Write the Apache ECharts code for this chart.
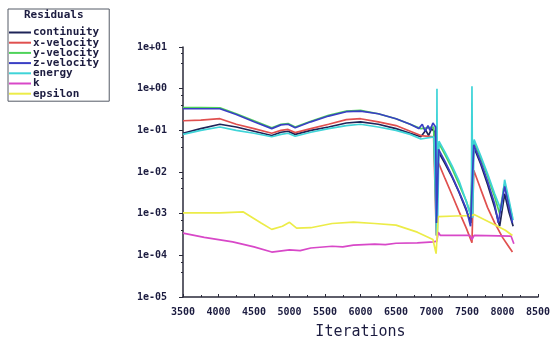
<!DOCTYPE html>
<html>
<head>
<meta charset="utf-8">
<script src="https://cdn.jsdelivr.net/npm/echarts@6/dist/echarts.min.js"></script>
<style>
  html, body { margin: 0; padding: 0; background: #ffffff; }
  #chart { width: 554px; height: 347px; }
</style>
</head>
<body>
<div id="chart"></div>
<script>
// Residual histories: [iteration, residual]
const continuity = [
  [3500, 0.085], [3750, 0.11], [4020, 0.14], [4250, 0.12], [4500, 0.095], [4750, 0.075],
  [4880, 0.09], [4980, 0.095], [5080, 0.08], [5300, 0.1], [5550, 0.12], [5800, 0.15],
  [6000, 0.16], [6250, 0.14], [6500, 0.11], [6700, 0.085], [6850, 0.07], [6920, 0.1],
  [6960, 0.075], [7000, 0.11], [7050, 0.09], [7068, 0.0006], [7100, 0.03], [7190, 0.016],
  [7290, 0.0075], [7390, 0.0032], [7490, 0.0012], [7555, 0.0006], [7595, 0.04],
  [7690, 0.016], [7790, 0.005], [7890, 0.0014], [7960, 0.0005], [8030, 0.003],
  [8090, 0.0011], [8150, 0.0005]
];
const xVelocity = [
  [3500, 0.17], [3750, 0.175], [4020, 0.19], [4250, 0.14], [4500, 0.11], [4750, 0.085],
  [4880, 0.1], [4980, 0.105], [5080, 0.088], [5300, 0.11], [5550, 0.14], [5800, 0.18],
  [6000, 0.19], [6250, 0.16], [6500, 0.13], [6700, 0.095], [6850, 0.075], [7030, 0.07],
  [7068, 0.0003], [7095, 0.017], [7190, 0.007], [7290, 0.0028], [7390, 0.0011],
  [7490, 0.00045], [7570, 0.0002], [7595, 0.011], [7690, 0.004], [7790, 0.0014],
  [7890, 0.0006], [8000, 0.00027], [8070, 0.00018], [8140, 0.00012]
];
const yVelocity = [
  [3500, 0.35], [3750, 0.35], [4020, 0.345], [4250, 0.25], [4500, 0.17], [4750, 0.115],
  [4880, 0.14], [4980, 0.145], [5080, 0.12], [5300, 0.165], [5550, 0.23], [5800, 0.29],
  [6000, 0.3], [6250, 0.25], [6500, 0.19], [6700, 0.14], [6850, 0.11], [7030, 0.12],
  [7068, 0.0008], [7100, 0.05], [7190, 0.026], [7290, 0.012], [7390, 0.005],
  [7490, 0.002], [7545, 0.001], [7595, 0.055], [7690, 0.022], [7790, 0.008],
  [7890, 0.0025], [7960, 0.001], [8025, 0.005], [8090, 0.0018], [8140, 0.0008]
];
const zVelocity = [
  [3500, 0.33], [3750, 0.33], [4020, 0.33], [4250, 0.24], [4500, 0.16], [4750, 0.11],
  [4880, 0.135], [4980, 0.14], [5080, 0.115], [5300, 0.16], [5550, 0.22], [5800, 0.28],
  [6000, 0.29], [6250, 0.25], [6500, 0.19], [6700, 0.14], [6820, 0.11], [6870, 0.14],
  [6910, 0.095], [6950, 0.13], [6980, 0.1], [7020, 0.15], [7058, 0.12], [7070, 0.0006],
  [7100, 0.035], [7190, 0.018], [7290, 0.008], [7390, 0.0033], [7490, 0.0013],
  [7550, 0.0005], [7595, 0.045], [7690, 0.018], [7790, 0.006], [7890, 0.0017],
  [7940, 0.0006], [8030, 0.0045], [8090, 0.0015], [8140, 0.0006]
];
const energy = [
  [3500, 0.08], [3750, 0.1], [4020, 0.12], [4250, 0.1], [4500, 0.085], [4750, 0.07],
  [4880, 0.08], [4980, 0.085], [5080, 0.072], [5300, 0.09], [5550, 0.11], [5800, 0.13],
  [6000, 0.14], [6250, 0.12], [6500, 0.1], [6700, 0.08], [6850, 0.062], [7035, 0.07],
  [7070, 0.0003], [7077, 1.0], [7083, 0.0003], [7105, 0.055], [7190, 0.03],
  [7290, 0.014], [7390, 0.006], [7520, 0.0014], [7560, 0.0008], [7570, 1.15],
  [7580, 0.0008], [7600, 0.06], [7690, 0.025], [7790, 0.009], [7890, 0.003],
  [7980, 0.0012], [8030, 0.0065], [8090, 0.0022], [8150, 0.0007]
];
const kResidual = [
  [3500, 3.4e-4], [3800, 2.7e-4], [4200, 2.1e-4], [4500, 1.6e-4], [4750, 1.2e-4],
  [5000, 1.35e-4], [5150, 1.3e-4], [5300, 1.5e-4], [5600, 1.65e-4], [5750, 1.6e-4],
  [5900, 1.75e-4], [6200, 1.85e-4], [6350, 1.8e-4], [6500, 1.95e-4], [6800, 2.0e-4],
  [7030, 2.1e-4], [7075, 2.2e-4], [7095, 3.6e-4], [7125, 3.0e-4], [7540, 3.0e-4],
  [7570, 2.4e-4], [7600, 3.0e-4], [8120, 2.9e-4], [8160, 1.9e-4]
];
const epsilon = [
  [3500, 1.05e-3], [4020, 1.05e-3], [4350, 1.1e-3], [4600, 6e-4], [4750, 4.2e-4],
  [4900, 5e-4], [5000, 6.2e-4], [5100, 4.5e-4], [5300, 4.6e-4], [5600, 5.8e-4],
  [5900, 6.3e-4], [6200, 5.8e-4], [6500, 5.3e-4], [6800, 3.6e-4], [7020, 2.4e-4],
  [7065, 1.1e-4], [7095, 8.5e-4], [7340, 8.8e-4], [7560, 9e-4], [7600, 9.5e-4],
  [7840, 6e-4], [8040, 4e-4], [8140, 3e-4]
];

const seriesNames = ['continuity', 'x-velocity', 'y-velocity', 'z-velocity', 'energy', 'k', 'epsilon'];
const seriesColors = ['#1e2458', '#e0504f', '#4fd35a', '#3a3fc4', '#3fd4d8', '#d848c8', '#ecec48'];
const seriesData = [continuity, xVelocity, yVelocity, zVelocity, energy, kResidual, epsilon];

const xTicks = { min: 3500, max: 8500, step: 500 };
const yTickLabels = ['1e-05', '1e-04', '1e-03', '1e-02', '1e-01', '1e+00', '1e+01'];

const mono = 'DejaVu Sans Mono';
const ink = '#1c1c40';

const chart = echarts.init(document.getElementById('chart'), null, { renderer: 'canvas' });

chart.setOption({
  animation: false,
  backgroundColor: '#ffffff',
  title: {
    text: 'Residuals',
    left: 24,
    top: 10,
    padding: 0,
    textStyle: { fontFamily: mono, fontSize: 11, fontWeight: 'bold', color: ink }
  },
  legend: {
    data: seriesNames,
    orient: 'vertical',
    left: 8,
    top: 9,
    padding: [18, 10, 2, 1],
    borderColor: '#555a66',
    borderWidth: 1,
    itemWidth: 22,
    itemHeight: 2,
    itemGap: -0.8,
    icon: 'rect',
    selectedMode: false,
    textStyle: { fontFamily: mono, fontSize: 11, fontWeight: 'bold', color: ink, lineHeight: 10, padding: [0, 0, 0, -3] }
  },
  grid: { left: 183, right: 16, top: 47, bottom: 50, containLabel: false },
  xAxis: {
    type: 'value',
    min: xTicks.min,
    max: xTicks.max,
    interval: xTicks.step,
    name: 'Iterations',
    nameLocation: 'middle',
    nameGap: 28,
    nameTextStyle: { fontFamily: mono, fontSize: 15, color: ink },
    axisLine: { lineStyle: { color: '#2a2a3a', width: 1.5 } },
    axisTick: { inside: true, length: 3, lineStyle: { color: '#2a2a3a' } },
    minorTick: { show: true, splitNumber: 2, length: 2, lineStyle: { color: '#2a2a3a' } },
    axisLabel: {
      fontFamily: mono, fontSize: 10, fontWeight: 'bold', color: ink, margin: 10,
      formatter: v => String(v)
    },
    splitLine: { show: false }
  },
  yAxis: {
    type: 'log',
    logBase: 10,
    min: 1e-5,
    max: 10,
    axisLine: { show: true, lineStyle: { color: '#2a2a3a', width: 1.5 } },
    axisTick: { show: true, length: 4, lineStyle: { color: '#2a2a3a' } },
    minorTick: { show: true, splitNumber: 3, length: 2, lineStyle: { color: '#2a2a3a' } },
    axisLabel: {
      fontFamily: mono, fontSize: 10, fontWeight: 'bold', color: ink, margin: 16,
      formatter: v => yTickLabels[Math.round(Math.log10(v)) + 5]
    },
    splitLine: { show: false }
  },
  series: seriesData.map((d, i) => ({
    name: seriesNames[i],
    type: 'line',
    data: d,
    symbol: 'none',
    color: seriesColors[i],
    lineStyle: { width: 1.7, color: seriesColors[i] },
    z: 2 + (i === 3 ? 1 : 0)
  }))
});
</script>
</body>
</html>
